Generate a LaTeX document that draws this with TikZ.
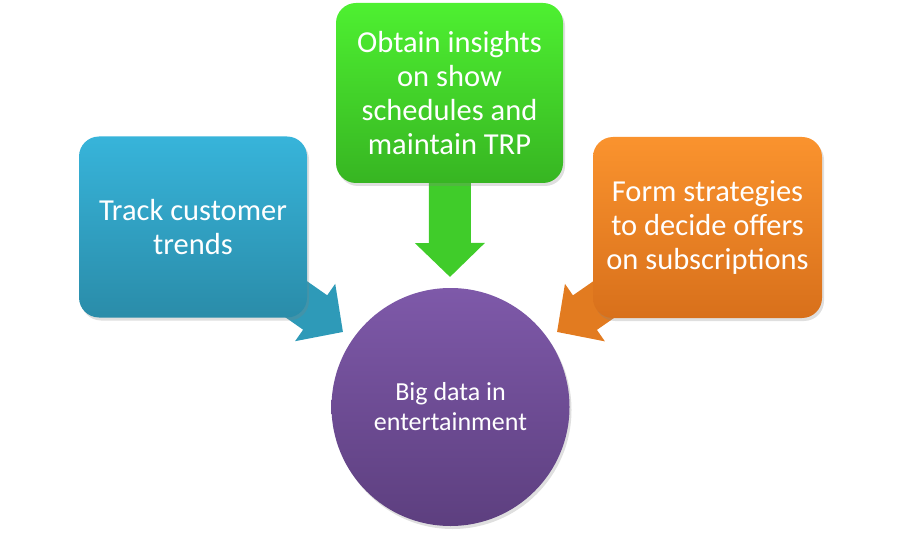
\documentclass[tikz,border=0pt]{standalone}
\usepackage{fontspec}
\setmainfont{Carlito}
\usetikzlibrary{arrows.meta,shadows,backgrounds}

\definecolor{tealtop}{HTML}{37B4DA}
\definecolor{tealbot}{HTML}{2A8CA9}
\definecolor{teallink}{HTML}{2E9AB8}
\definecolor{limetop}{HTML}{4EF031}
\definecolor{limebot}{HTML}{37B522}
\definecolor{limelink}{HTML}{40CC2A}
\definecolor{ambertop}{HTML}{FA932E}
\definecolor{amberbot}{HTML}{D8701B}
\definecolor{amberlink}{HTML}{E27B20}
\definecolor{plumtop}{HTML}{7E59A9}
\definecolor{plumbot}{HTML}{5D3F7F}

\tikzset{
  tile/.style={rounded corners=20pt, minimum width=228pt, minimum height=181pt,
    text=white, align=center, font=\fontsize{30.5}{34}\selectfont,
    drop shadow={opacity=0.25, shadow xshift=2pt, shadow yshift=-3pt}},
  hub/.style={circle, minimum size=238pt, inner sep=0pt, text=white, align=center,
    font=\fontsize{26}{30}\selectfont, top color=plumtop, bottom color=plumbot,
    drop shadow={opacity=0.25, shadow xshift=2pt, shadow yshift=-3pt}},
  feed/.style={line width=42pt, -{Triangle[length=34pt, width=68pt]}}
}

\begin{document}
\begin{tikzpicture}[x=1pt, y=-1pt]
  \useasboundingbox (0,0) rectangle (899,537);

  \node[tile, top color=tealtop, bottom color=tealbot] (trends) at (193,227) {Track customer\\trends};
  \node[tile, top color=limetop, bottom color=limebot, minimum width=227pt, minimum height=180pt] (insights) at (449.5,93) {Obtain insights\\on show\\schedules and\\maintain TRP};
  \node[tile, top color=ambertop, bottom color=amberbot, minimum width=229pt] (offers) at (707.5,227.5) {Form strategies\\to decide offers\\on subscriptions};
  \node[hub] (bigdata) at (450.5,407) {Big data in\\entertainment};

  \coordinate (ttip) at (343,332);
  \coordinate (itip) at (450,277);
  \coordinate (otip) at (557,332);

  % arrows behind the tiles
  \begin{scope}[on background layer]
    \draw[feed, teallink] (trends.center) -- (ttip);
    \draw[feed, limelink] (insights.center) -- (itip);
    \draw[feed, amberlink] (offers.center) -- (otip);
  \end{scope}
\end{tikzpicture}
\end{document}
